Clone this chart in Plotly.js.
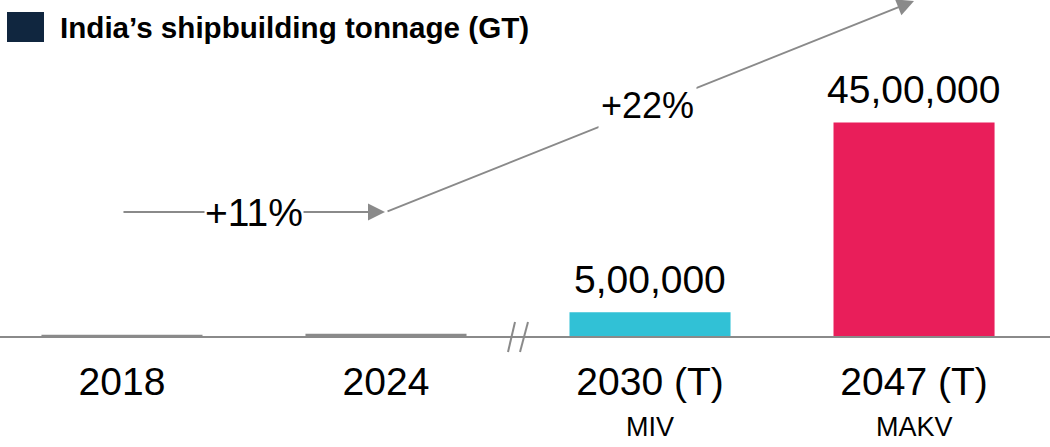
<!DOCTYPE html>
<html>
<head>
<meta charset="utf-8">
<script src="https://cdn.plot.ly/plotly-3.0.1.min.js"></script>
<style>html,body{margin:0;padding:0;background:#fff;}#chart{width:1050px;height:447px;}</style>
</head>
<body>
<div id="chart"></div>
<script>
const categories = ['2018', '2024', '2030 (T)', '2047 (T)'];
const tonnage = [27000, 50000, 500000, 4500000];
const valueLabels = ['27,000', '50,000', '5,00,000', '45,00,000'];
const subLabels = ['', '', 'MIV', 'MAKV'];
const barColors = ['#8a8a8a', '#8a8a8a', '#31c1d6', '#e91e5a'];
const growthLabels = ['+11%', '+22%'];
const legendLabel = 'India’s shipbuilding tonnage (GT)';
const legendColor = '#10263f';

const FONT = 'Liberation Sans, Arial, sans-serif';
const GREY = '#8a8a8a';
const Y_MAX = 7.08e6;
const ARROW1_Y = 0.369 * Y_MAX;

const trace = {
  type: 'bar',
  x: categories,
  y: tonnage,
  marker: {color: barColors, line: {width: 0}},
  width: 0.61,
  hoverinfo: 'skip',
  showlegend: false
};

const annotations = [];
// value labels
categories.forEach((c, i) => {
  annotations.push({
    xref: 'x', yref: 'y', x: c, y: tonnage[i],
    text: valueLabels[i], showarrow: false,
    yanchor: 'bottom', yshift: 9,
    font: {family: FONT, size: 39, color: '#000'}
  });
});
// sub labels
categories.forEach((c, i) => {
  if (!subLabels[i]) return;
  annotations.push({
    xref: 'x', yref: 'paper', x: c, y: -0.22,
    text: subLabels[i], showarrow: false,
    yanchor: 'top',
    font: {family: FONT, size: 27, color: '#000'}
  });
});
// growth arrows
annotations.push({
  xref: 'x', yref: 'y', x: 1, y: ARROW1_Y,
  axref: 'x', ayref: 'y', ax: 0, ay: ARROW1_Y,
  text: '', showarrow: true, arrowhead: 2, arrowsize: 1.7, arrowwidth: 2,
  arrowcolor: GREY, standoff: 1
});
annotations.push({
  xref: 'x', yref: 'paper', x: categories[3], y: 1.003,
  ax: -528, ay: 213, axref: 'pixel', ayref: 'pixel',
  text: '', showarrow: true, arrowhead: 2, arrowsize: 1.7, arrowwidth: 2,
  arrowcolor: GREY
});
annotations.push({
  xref: 'x', yref: 'paper', x: 0.5, y: 0.369,
  text: growthLabels[0], showarrow: false, bgcolor: '#fff',
  xanchor: 'center', yanchor: 'middle', borderpad: 0,
  font: {family: FONT, size: 39, color: '#000'}
});
annotations.push({
  xref: 'x', yref: 'paper', x: 1.99, y: 0.6875,
  text: growthLabels[1], showarrow: false, bgcolor: '#fff',
  xanchor: 'center', yanchor: 'middle', borderpad: 2,
  font: {family: FONT, size: 36, color: '#000'}
});
// legend
annotations.push({
  xref: 'paper', yref: 'paper', x: 58 / 1050, y: 0.918,
  text: '<b>' + legendLabel + '</b>', showarrow: false,
  xanchor: 'left', yanchor: 'middle',
  font: {family: FONT, size: 29.6, color: '#000'}
});

const shapes = [
  {type: 'rect', xref: 'paper', yref: 'paper', x0: 7 / 1050, x1: 44 / 1050, y0: 0.875, y1: 0.964,
   fillcolor: legendColor, line: {width: 0}},
  // axis break marks
  {type: 'line', xref: 'x', yref: 'paper', xsizemode: 'pixel', ysizemode: 'pixel', xanchor: 1.5, yanchor: 0,
   x0: -3, y0: 14, x1: -10, y1: -16, line: {color: GREY, width: 2}},
  {type: 'line', xref: 'x', yref: 'paper', xsizemode: 'pixel', ysizemode: 'pixel', xanchor: 1.5, yanchor: 0,
   x0: 10, y0: 14, x1: 2, y1: -16, line: {color: GREY, width: 2}}
];

const layout = {
  width: 1050, height: 447,
  margin: {l: 0, r: 0, t: 0, b: 111},
  paper_bgcolor: '#fff', plot_bgcolor: '#fff',
  showlegend: false,
  xaxis: {
    type: 'category', categoryorder: 'array', categoryarray: categories,
    range: [-0.462, 3.515], fixedrange: true,
    showline: true, linecolor: GREY, linewidth: 2, layer: 'above traces',
    ticks: '', showgrid: false, zeroline: false,
    tickfont: {family: FONT, size: 39, color: '#000'},
    ticklabelstandoff: 10
  },
  yaxis: {
    range: [0, Y_MAX], visible: false, showgrid: false, zeroline: false, fixedrange: true
  },
  annotations: annotations,
  shapes: shapes
};

Plotly.newPlot('chart', [trace], layout, {displayModeBar: false, staticPlot: true});
</script>
</body>
</html>
